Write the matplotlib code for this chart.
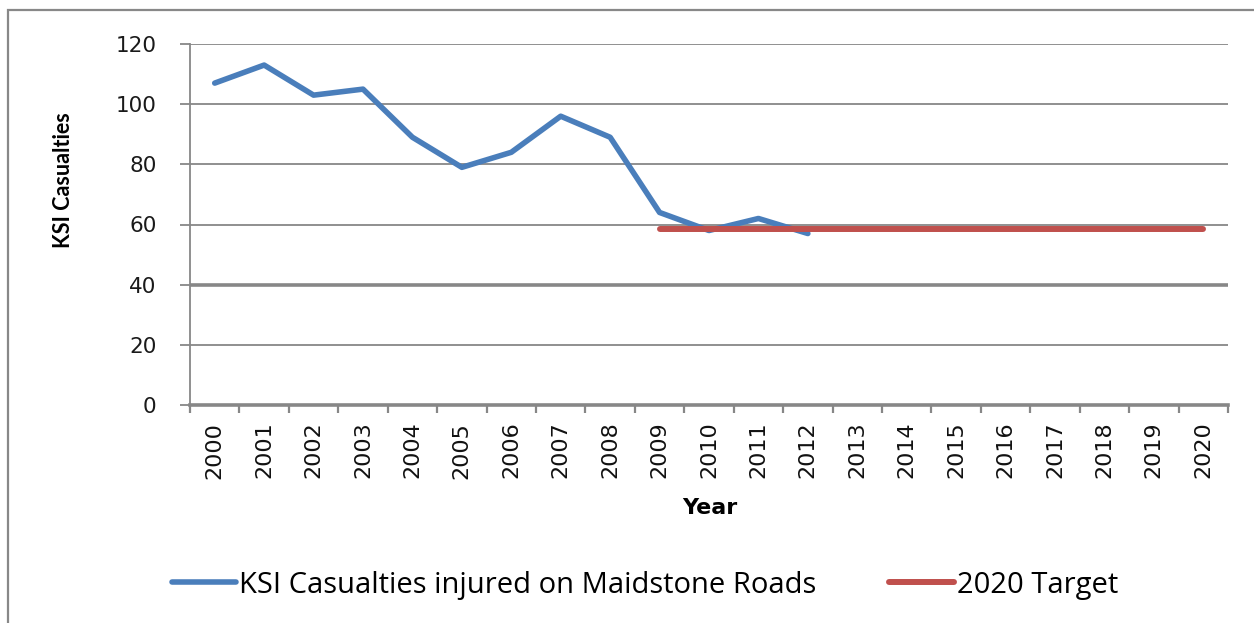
import numpy as np
import matplotlib.pyplot as plt
from matplotlib.patches import Rectangle

# Data

years = ['2000', '2001', '2002', '2003', '2004', '2005', '2006', '2007', '2008', '2009',
         '2010', '2011', '2012', '2013', '2014', '2015', '2016', '2017', '2018', '2019', '2020']
casualty_years = ['2000', '2001', '2002', '2003', '2004', '2005', '2006', '2007', '2008',
                  '2009', '2010', '2011', '2012']
casualties = [107, 113, 103, 105, 89, 79, 84, 96, 89, 64, 58, 62, 57]
target_years = ['2009', '2010', '2011', '2012', '2013', '2014', '2015', '2016', '2017',
                '2018', '2019', '2020']
target = [58.5, 58.5, 58.5, 58.5, 58.5, 58.5, 58.5, 58.5, 58.5, 58.5, 58.5, 58.5]
y_ticks = [0, 20, 40, 60, 80, 100, 120]

W, H = 1254, 623
grid_col = '#878787'

fig = plt.figure(figsize=(W / 100, H / 100), dpi=100)
ax = fig.add_axes([190 / W, 1 - 405 / H, 1038 / W, 361 / H])

xpos = {y: i for i, y in enumerate(years)}
ax.plot([xpos[y] for y in casualty_years], casualties, color='#4a7ebb', lw=4.0,
        solid_joinstyle='round', solid_capstyle='round',
        label='KSI Casualties injured on Maidstone Roads', zorder=3)
ax.plot([xpos[y] for y in target_years], target, color='#c0504d', lw=4.3,
        solid_capstyle='round', label='2020 Target', zorder=3)

ax.set_xlim(-0.5, len(years) - 0.5)
ax.set_ylim(0, 120)

# gridlines
ax.set_yticks(y_ticks)
ax.grid(True, axis='y', color=grid_col, lw=1.3)
ax.set_axisbelow(True)
for gl, v in zip(ax.get_ygridlines(), y_ticks):
    if v == 40:
        gl.set_linewidth(2.6)

# spines
for s in ['top', 'right']:
    ax.spines[s].set_visible(False)
ax.spines['left'].set_color(grid_col)
ax.spines['left'].set_linewidth(1.3)
ax.spines['bottom'].set_color(grid_col)
ax.spines['bottom'].set_linewidth(2.6)

# y ticks
ax.tick_params(axis='y', direction='out', length=7, width=1.3, color=grid_col,
               pad=17, labelsize=15.5, labelcolor='#1a1a1a')

# x ticks: marks at category boundaries, labels at centers
ax.set_xticks(np.arange(-0.5, len(years), 1.0))
ax.set_xticklabels([])
ax.set_xticks(np.arange(len(years)), minor=True)
ax.set_xticklabels(years, minor=True, rotation=90)
ax.tick_params(axis='x', which='major', direction='out', length=6, width=1.6, color=grid_col)
ax.tick_params(axis='x', which='minor', length=0, pad=12, labelsize=16, labelcolor='#111111')

fig.text(64 / W, 1 - 180 / H, 'KSI Casualties', rotation=90, ha='center', va='center',
         fontsize=15.5, fontweight='bold', family='Lato')
fig.text(710 / W, 1 - 508 / H, 'Year', ha='center', va='center',
         fontsize=16, fontweight='bold')

leg = fig.legend(loc='center', bbox_to_anchor=(645 / W, 1 - 585 / H), ncol=2,
                 frameon=False, handlelength=2.2, handletextpad=0.1, columnspacing=2.5,
                 prop={'family': 'Open Sans', 'size': 21})

# outer chart border
fig.patches.append(Rectangle((8 / W, -0.1), 1.2, 1 - 10 / H + 0.1, transform=fig.transFigure,
                             fill=False, edgecolor='#888888', lw=1.6))

fig.savefig('out.png', dpi=100)
